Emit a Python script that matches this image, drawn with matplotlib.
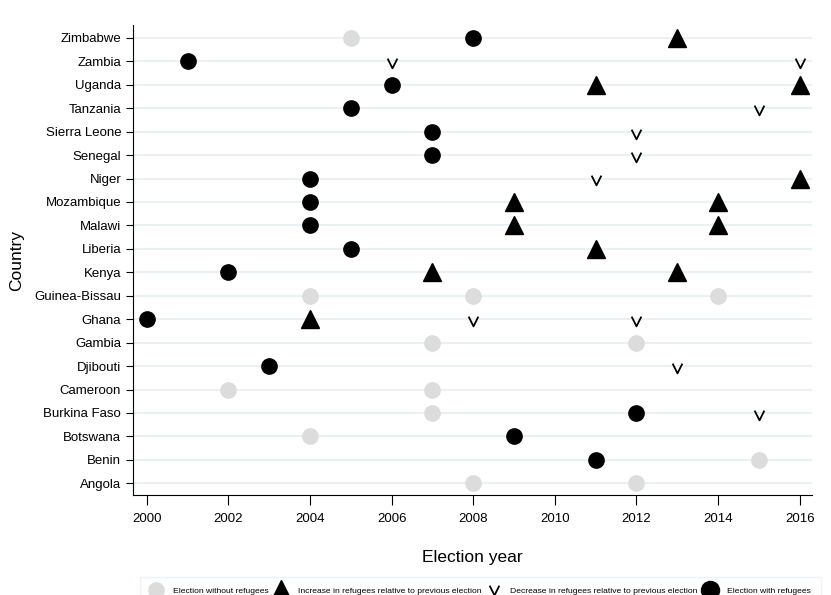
import matplotlib
matplotlib.use("Agg")
import matplotlib.pyplot as plt
from matplotlib.path import Path
from matplotlib.lines import Line2D

plt.rcParams["font.family"] = ["Liberation Sans", "DejaVu Sans"]

countries = ["Angola", "Benin", "Botswana", "Burkina Faso", "Cameroon", "Djibouti",
             "Gambia", "Ghana", "Guinea-Bissau", "Kenya", "Liberia", "Malawi",
             "Mozambique", "Niger", "Senegal", "Sierra Leone", "Tanzania", "Uganda",
             "Zambia", "Zimbabwe"]

# (country, year) per election type
no_refugees = [("Zimbabwe", 2005), ("Guinea-Bissau", 2004), ("Guinea-Bissau", 2008),
               ("Guinea-Bissau", 2014), ("Gambia", 2007), ("Gambia", 2012),
               ("Cameroon", 2002), ("Cameroon", 2007), ("Burkina Faso", 2007),
               ("Botswana", 2004), ("Benin", 2015), ("Angola", 2008), ("Angola", 2012)]
with_refugees = [("Zimbabwe", 2008), ("Zambia", 2001), ("Uganda", 2006), ("Tanzania", 2005),
                 ("Sierra Leone", 2007), ("Senegal", 2007), ("Niger", 2004),
                 ("Mozambique", 2004), ("Malawi", 2004), ("Liberia", 2005), ("Kenya", 2002),
                 ("Ghana", 2000), ("Djibouti", 2003), ("Burkina Faso", 2012),
                 ("Botswana", 2009), ("Benin", 2011)]
increase = [("Zimbabwe", 2013), ("Uganda", 2011), ("Uganda", 2016), ("Niger", 2016),
            ("Mozambique", 2009), ("Mozambique", 2014), ("Malawi", 2009), ("Malawi", 2014),
            ("Liberia", 2011), ("Kenya", 2007), ("Kenya", 2013), ("Ghana", 2004)]
decrease = [("Zambia", 2006), ("Zambia", 2016), ("Tanzania", 2015), ("Sierra Leone", 2012),
            ("Senegal", 2012), ("Niger", 2011), ("Ghana", 2008), ("Ghana", 2012),
            ("Djibouti", 2013), ("Burkina Faso", 2015)]

year_ticks = list(range(2000, 2017, 2))

pos = {c: i for i, c in enumerate(countries)}
vee = Path([(-1, 1), (0, -1), (1, 1)], [Path.MOVETO, Path.LINETO, Path.LINETO])

fig = plt.figure(figsize=(8.31, 5.95), dpi=100)
ax = fig.add_axes([0.16, 0.168, 0.817, 0.79])

for c in countries:
    ax.axhline(pos[c], color="#eaf1f3", linewidth=1.5, zorder=0)

def xy(pairs):
    return [p[1] for p in pairs], [pos[p[0]] for p in pairs]

x, y = xy(no_refugees)
ax.plot(x, y, "o", color="#dcdcdc", markersize=11, linestyle="none")
x, y = xy(increase)
ax.plot(x, y, "^", color="black", markersize=12.5, linestyle="none")
x, y = xy(decrease)
ax.plot(x, [v - 0.08 for v in y], marker=vee, color="black", markersize=7,
        markerfacecolor="none", markeredgewidth=1.3, linestyle="none")
x, y = xy(with_refugees)
ax.plot(x, y, "o", color="black", markersize=11, linestyle="none")

ax.set_xlim(1999.66, 2016.3)
ax.set_ylim(-0.5, len(countries) - 0.45)
ax.set_xticks(year_ticks)
ax.set_yticks(range(len(countries)))
ax.set_yticklabels(countries)
ax.tick_params(axis="both", labelsize=9.5, direction="out")
ax.tick_params(axis="x", length=7, pad=6)
ax.tick_params(axis="y", length=5)
ax.spines["top"].set_visible(False)
ax.spines["right"].set_visible(False)
ax.set_xlabel("Election year", fontsize=12.5, labelpad=18)
ax.set_ylabel("Country", fontsize=12.5, labelpad=7)

handles = [
    Line2D([], [], marker="o", color="#dcdcdc", markersize=11, linestyle="none"),
    Line2D([], [], marker="^", color="black", markersize=14, linestyle="none"),
    Line2D([], [], marker=vee, color="black", markersize=7, markerfacecolor="none",
           markeredgewidth=1.3, linestyle="none"),
    Line2D([], [], marker="o", color="black", markersize=13, linestyle="none"),
]
labels = ["Election without refugees", "Increase in refugees relative to previous election",
          "Decrease in refugees relative to previous election", "Election with refugees"]
leg = fig.legend(handles, labels, loc="upper left", bbox_to_anchor=(0.163, 0.037),
                 ncol=4, fontsize=6.1, frameon=True, fancybox=False, handletextpad=1.2,
                 columnspacing=0.75, borderpad=1.2, handlelength=1.5)
leg.get_frame().set_edgecolor("#eaf1f3")
leg.get_frame().set_linewidth(1)

fig.savefig("out.png", dpi=100)
